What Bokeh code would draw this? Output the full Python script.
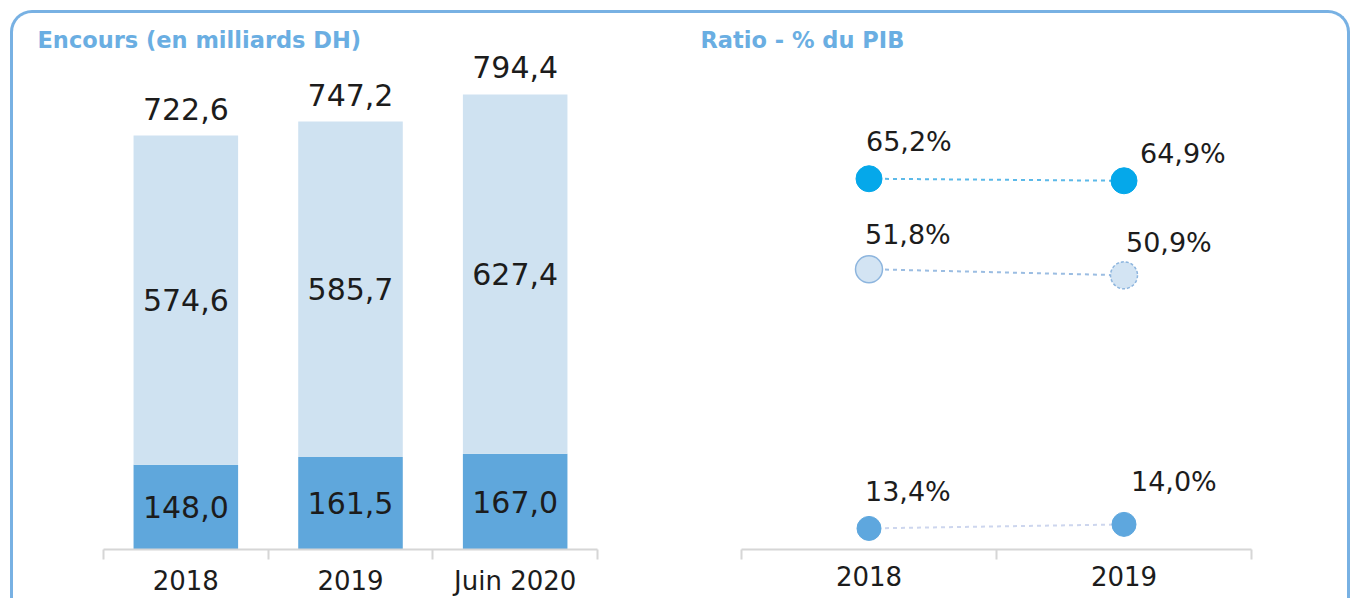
from bokeh.plotting import figure
from bokeh.models import ColumnDataSource, FixedTicker, CDSView, IndexFilter, Range1d
from bokeh.layouts import row
from bokeh.embed import file_html
from bokeh.resources import INLINE
from bokeh.core.properties import value

# ---------------- data ----------------
categories_left = ["2018", "2019", "Juin 2020"]
dette_exterieure = [148.0, 161.5, 167.0]
dette_interieure = [574.6, 585.7, 627.4]
encours_total = [722.6, 747.2, 794.4]

categories_right = ["2018", "2019"]
ratio_total = [65.2, 64.9]
ratio_interieure = [51.8, 50.9]
ratio_exterieure = [13.4, 14.0]

# ---------------- styles ----------------
TITLE_COLOR = "#6aaee2"
DARK = "#5fa7dc"
LIGHT = "#cfe2f1"
AXIS_COLOR = "#d6d6d6"
TEXT_COLOR = "#1c1c1c"
LABEL_FONT = "DejaVu Sans"
FIG_H = 585


def fmt(v, pct=False):
    return f"{v:.1f}".replace(".", ",") + ("%" if pct else "")


def style_axis(p, xs, cats, n):
    p.xaxis.ticker = FixedTicker(ticks=xs, minor_ticks=list(range(n + 1)))
    p.xaxis.major_label_overrides = {x: c for x, c in zip(xs, cats)}
    p.xaxis.major_tick_line_color = None
    p.xaxis.major_tick_out = 0
    p.xaxis.major_tick_in = 0
    p.xaxis.minor_tick_line_color = AXIS_COLOR
    p.xaxis.minor_tick_line_width = 2
    p.xaxis.minor_tick_out = 10
    p.xaxis.minor_tick_in = 0
    p.xaxis.axis_line_color = AXIS_COLOR
    p.xaxis.axis_line_width = 2
    p.xaxis.major_label_text_font = LABEL_FONT
    p.xaxis.major_label_text_font_size = "26px"
    p.xaxis.major_label_text_color = TEXT_COLOR
    p.xaxis.major_label_standoff = 6
    p.yaxis.visible = False
    p.xgrid.visible = False
    p.ygrid.visible = False
    p.outline_line_color = None
    p.background_fill_color = None
    p.border_fill_color = None
    p.title.text_font = LABEL_FONT
    p.title.text_font_style = "bold"
    p.title.text_font_size = "22.5px"
    p.title.text_color = TITLE_COLOR
    p.title.align = "left"
    p.title.standoff = 0


# ---------------- left panel: stacked bars ----------------
xs1 = [i + 0.5 for i in range(len(categories_left))]
src1 = ColumnDataSource(dict(
    x=xs1,
    ext=dette_exterieure,
    inter=dette_interieure,
    total=encours_total,
    ext_mid=[e / 2 for e in dette_exterieure],
    int_mid=[e + i / 2 for e, i in zip(dette_exterieure, dette_interieure)],
    ext_lbl=[fmt(v) for v in dette_exterieure],
    int_lbl=[fmt(v) for v in dette_interieure],
    tot_lbl=[fmt(v) for v in encours_total],
))

p1 = figure(width=670, height=FIG_H, x_range=Range1d(0, 3), y_range=Range1d(0, 867.7),
            output_backend="svg", toolbar_location=None,
            min_border_left=90, min_border_right=86, min_border_top=39, min_border_bottom=40,
            title="Encours (en milliards DH)")
style_axis(p1, xs1, categories_left, len(categories_left))
p1.title.offset = -66

p1.vbar(x="x", bottom=0, top="ext", width=0.635, fill_color=DARK, line_color=None, source=src1)
p1.vbar(x="x", bottom="ext", top="total", width=0.635, fill_color=LIGHT, line_color=None, source=src1)

p1.text(x="x", y="total", text="tot_lbl", source=src1, text_align="center", text_baseline="middle",
        y_offset=-27, text_font=value(LABEL_FONT), text_font_size="30px", text_color=TEXT_COLOR)
p1.text(x="x", y="int_mid", text="int_lbl", source=src1, text_align="center", text_baseline="middle",
        text_font=value(LABEL_FONT), text_font_size="30px", text_color=TEXT_COLOR)
p1.text(x="x", y="ext_mid", text="ext_lbl", source=src1, text_align="center", text_baseline="middle",
        text_font=value(LABEL_FONT), text_font_size="30px", text_color=TEXT_COLOR)

# ---------------- right panel: dots ----------------
xs2 = [i + 0.5 for i in range(len(categories_right))]
p2 = figure(width=664, height=FIG_H, x_range=Range1d(0, 2), y_range=Range1d(10.28, 83.9),
            output_backend="svg", toolbar_location=None,
            min_border_left=58, min_border_right=96, min_border_top=39, min_border_bottom=40,
            title="Ratio - % du PIB")
style_axis(p2, xs2, categories_right, len(categories_right))
p2.title.offset = -41

series = [
    (ratio_total, "#5cb9e8", dict(fill_color="#05a8ea", line_color="#05a8ea"), 26, [(-3, -37), (16, -27)]),
    (ratio_interieure, "#9bbde2", dict(fill_color="#d3e4f3", line_color="#8db5de", line_width=1.5), 27, [(-4, -35), (2, -33)]),
    (ratio_exterieure, "#cdd6ee", dict(fill_color="#5ea7de", line_color="#5ea7de"), 24, [(-4, -37), (7, -43)]),
]

for k, (vals, lcol, mstyle, size, offs) in enumerate(series):
    src = ColumnDataSource(dict(x=xs2, y=vals, lbl=[fmt(v, True) for v in vals],
                                xo=[o[0] for o in offs], yo=[o[1] for o in offs]))
    p2.line(x="x", y="y", source=src, line_color=lcol, line_width=2, line_dash="4 4")
    if k == 1:
        p2.scatter(x="x", y="y", source=src, size=size, view=CDSView(filter=IndexFilter([0])), **mstyle)
        p2.scatter(x="x", y="y", source=src, size=size, view=CDSView(filter=IndexFilter([1])),
                   line_dash="3 2", **mstyle)
    else:
        p2.scatter(x="x", y="y", source=src, size=size, **mstyle)
    p2.text(x="x", y="y", text="lbl", source=src, x_offset="xo", y_offset="yo",
            text_align="left", text_baseline="middle", text_font=value(LABEL_FONT),
            text_font_size="27px", text_color=TEXT_COLOR)

layout = row(p1, p2, margin=(10, 0, 0, 10), styles={
    "border-top": "3px solid #78b1e3",
    "border-left": "3px solid #78b1e3",
    "border-right": "3px solid #78b1e3",
    "border-radius": "22px 22px 0 0",
    "max-height": "590px",
    "overflow": "hidden",
})

open("out.html", "w").write(file_html(layout, INLINE))
